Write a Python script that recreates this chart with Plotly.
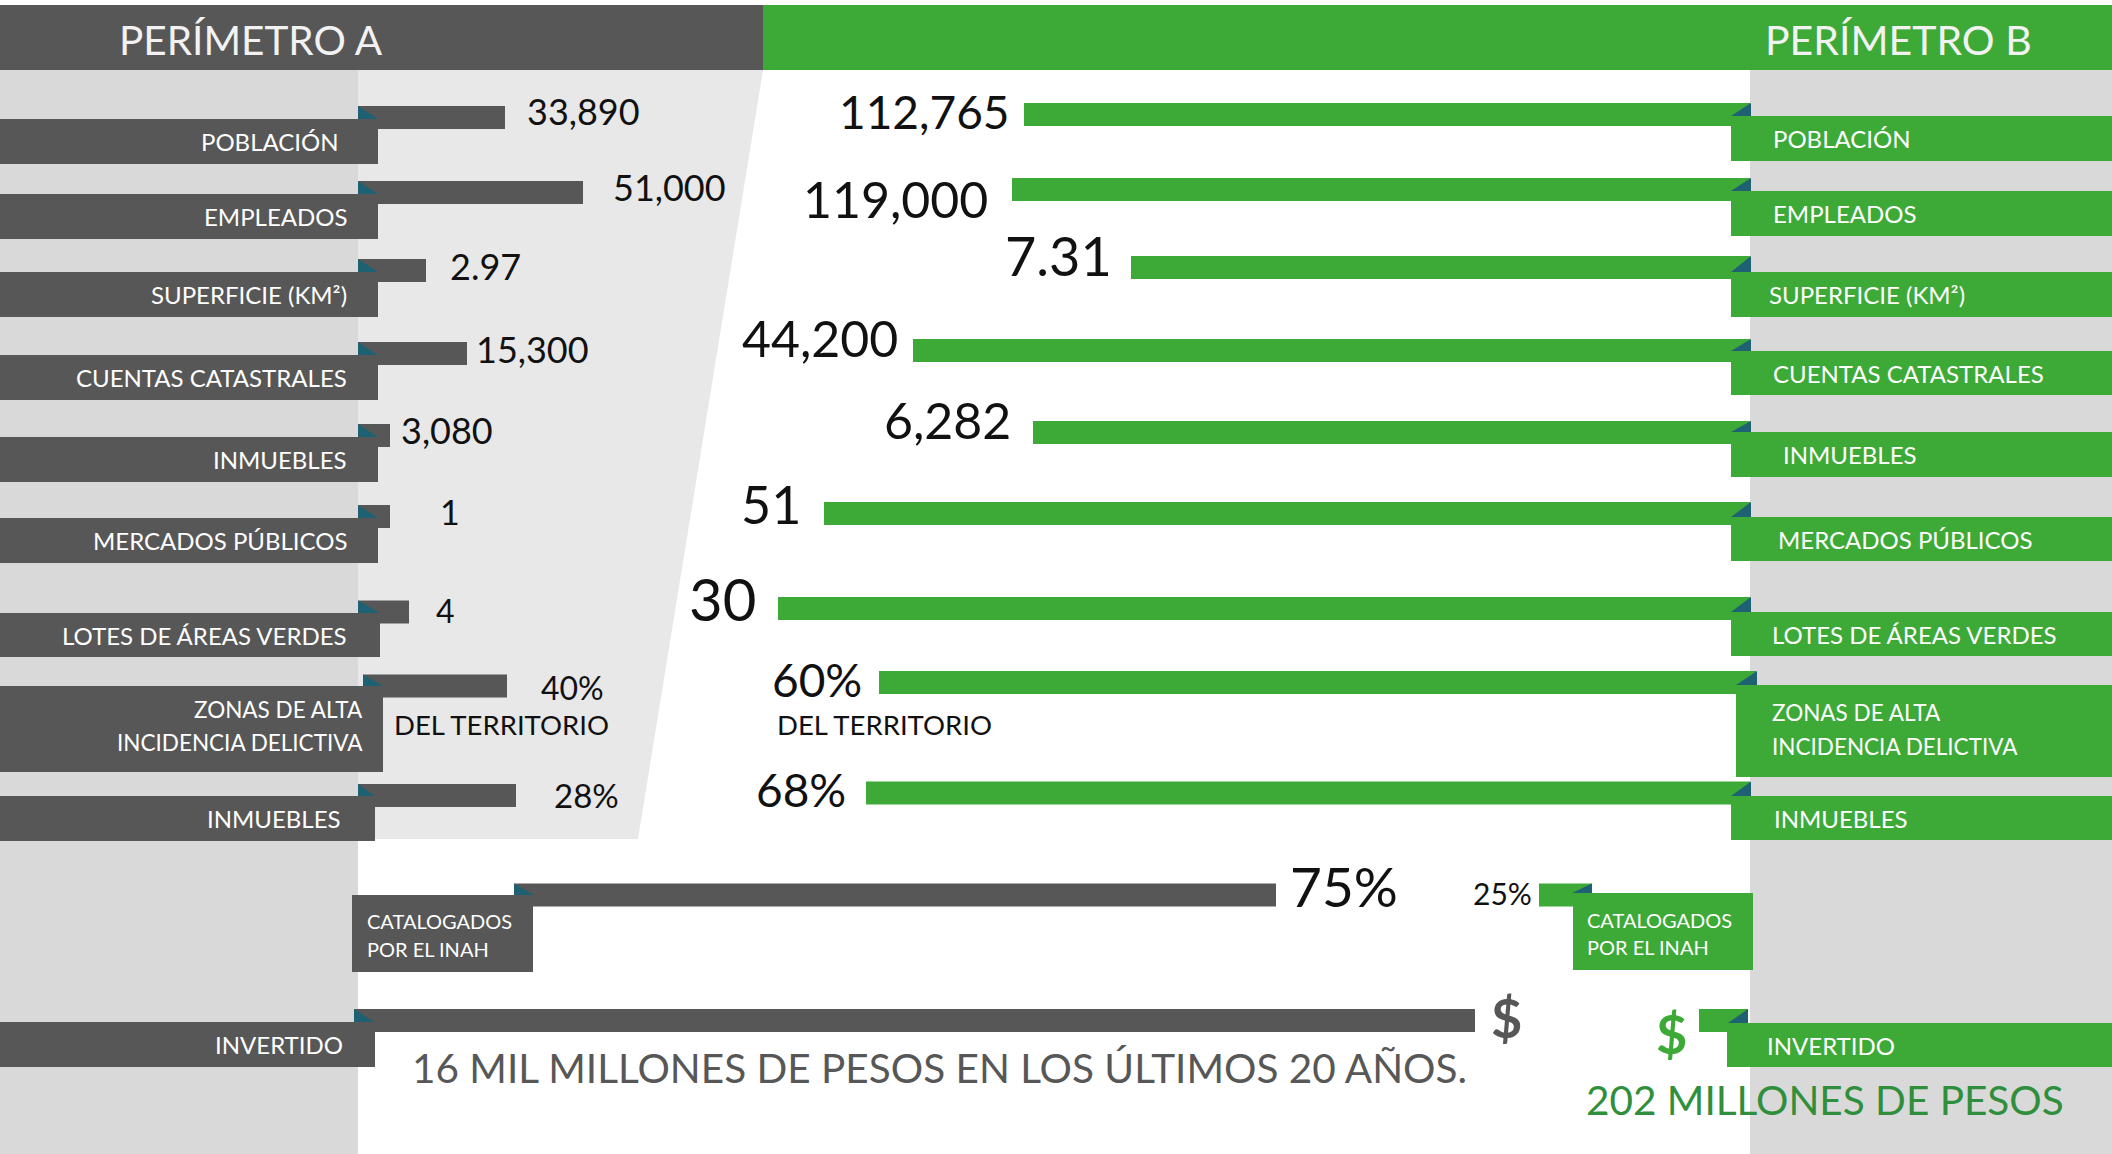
import plotly.graph_objects as go

# ---------------- data ----------------
categories = ["POBLACIÓN", "EMPLEADOS", "SUPERFICIE (KM²)", "CUENTAS CATASTRALES",
              "INMUEBLES", "MERCADOS PÚBLICOS", "LOTES DE ÁREAS VERDES",
              "ZONAS DE ALTA<br>INCIDENCIA DELICTIVA", "INMUEBLES"]
value_labels_a = ["33,890", "51,000", "2.97", "15,300", "3,080", "1", "4", "40%", "28%"]
value_labels_b = ["112,765", "119,000", "7.31", "44,200", "6,282", "51", "30", "60%", "68%"]
# bar lengths as drawn in the infographic (display units)
bar_a = [147, 225, 68, 109, 32, 32, 51, 144, 158]
bar_b = [726, 738, 619, 837, 717, 926, 972, 877, 884]

bottom_categories = ["CATALOGADOS<br>POR EL INAH", "INVERTIDO"]
bottom_labels_a = ["75%", "$"]
bottom_labels_b = ["25%", "$"]
bottom_bar_a = [762, 1121]
bottom_bar_b = [53, 49]

perimeters = ["PERÍMETRO A", "PERÍMETRO B"]
territory_note = "DEL TERRITORIO"
invest_notes = ["16 MIL MILLONES DE PESOS EN LOS ÚLTIMOS 20 AÑOS.", "202 MILLONES DE PESOS"]

# ---------------- layout / style ----------------
W, H = 2112, 1154
DARK = "#575757"
GREEN = "#3daa37"
DGREEN = "#2f8f3c"
TEAL = "#1e6173"
LGRAY = "#d9d9d9"
LLGRAY = "#e8e8e8"
FONT = "Lato, 'Open Sans', sans-serif"
BAR_W = 23

left_base = [358, 358, 358, 358, 358, 358, 358, 363, 358]
right_end = [1750, 1750, 1750, 1750, 1750, 1750, 1750, 1756, 1750]
left_bar_c = [117.5, 192.5, 270.5, 353.5, 435.5, 516.5, 612, 686, 795.5]
right_bar_c = [114.5, 189.5, 267.5, 350.5, 432.5, 513.5, 608.5, 682.5, 793]
left_box = [(119, 164), (194, 239), (272, 317), (355, 400), (437, 482), (518, 563), (613, 657), (686, 772), (796, 841)]
left_box_r = [378, 378, 378, 378, 378, 378, 380, 383, 375]
left_text_r = [341, 349, 349, 349, 349, 349, 349, 365, 343]
right_box = [(116, 161), (191, 236), (272, 317), (351, 395), (432, 477), (517, 561), (612, 656), (685, 777), (796, 840)]
right_box_l = [1731, 1731, 1731, 1731, 1731, 1731, 1731, 1736, 1731]
right_text_l = [1771, 1771, 1767, 1771, 1781, 1776, 1770, 1770, 1772]

left_gap = [20, 28, 22, 7, 9, 48, 25, 32, 36]
right_gap = [12, 22, 17, 13, 20, 21, 20, 15, 18]
left_val_y = [111, 186.5, 265.5, 348.5, 429.5, 511.5, 610, 687.5, 795]
right_val_y = [111, 199, 255.5, 338, 420, 504, 598, 679, 789.5]
left_val_fs = [36, 36, 36, 36, 36, 34, 32, 32, 33]
right_val_fs = [46, 50, 54, 50, 50, 52, 58, 46, 46]

# bottom rows
bot_left_base = [514, 354]
bot_right_end = [1592, 1748]
bot_bar_c = [895, 1020.5]
bot_left_box = [(352, 533, 895, 972), (0, 375, 1022, 1067)]
bot_right_box = [(1573, 1753, 893, 970), (1727, 2112, 1023, 1067)]

fig = go.Figure()

# bars
fig.add_trace(go.Bar(orientation="h", y=left_bar_c, x=bar_a, base=left_base, width=BAR_W,
                     marker=dict(color=DARK, line=dict(width=0)), hoverinfo="skip"))
fig.add_trace(go.Bar(orientation="h", y=right_bar_c, x=[-v for v in bar_b], base=right_end, width=BAR_W,
                     marker=dict(color=GREEN, line=dict(width=0)), hoverinfo="skip"))
fig.add_trace(go.Bar(orientation="h", y=bot_bar_c, x=bottom_bar_a, base=bot_left_base, width=BAR_W,
                     marker=dict(color=DARK, line=dict(width=0)), hoverinfo="skip"))
fig.add_trace(go.Bar(orientation="h", y=bot_bar_c, x=[-v for v in bottom_bar_b], base=bot_right_end, width=BAR_W,
                     marker=dict(color=GREEN, line=dict(width=0)), hoverinfo="skip"))

shapes = []
def rect(x0, y0, x1, y1, color, layer="above"):
    shapes.append(dict(type="rect", xref="x", yref="y", x0=x0, x1=x1, y0=y0, y1=y1,
                       fillcolor=color, line=dict(width=0), layer=layer))
def tri(pts, color):
    p = "M " + " L ".join(f"{a},{b}" for a, b in pts) + " Z"
    shapes.append(dict(type="path", xref="x", yref="y", path=p, fillcolor=color,
                       line=dict(width=0), layer="above"))

# backgrounds
rect(0, 70, 358, H, LGRAY, "below")
shapes.append(dict(type="path", xref="x", yref="y", path="M 358,70 L 763,70 L 638,839 L 358,839 Z",
                   fillcolor=LLGRAY, line=dict(width=0), layer="below"))
rect(1750, 70, W, H, LGRAY, "below")
rect(0, 5, 763, 70, DARK, "below")
rect(763, 5, W, 70, GREEN, "below")

ann = []
def text(x, y, s, size, color, anchor="left", bold=False):
    ann.append(dict(x=x, y=y, xref="x", yref="y", text=(f"<b>{s}</b>" if bold else s), showarrow=False,
                    xanchor=anchor, yanchor="middle", align=anchor,
                    font=dict(family=FONT, size=size, color=color)))

text(117, 39, perimeters[0], 40.5, "#f2f2f2")
text(1763, 39, perimeters[1], 41, "#f2f2f2")

for i, cat in enumerate(categories):
    lines = cat.split("<br>")
    # left label box
    y0, y1 = left_box[i]
    rect(0, y0, left_box_r[i], y1, DARK)
    bar_top = left_bar_c[i] - BAR_W / 2
    tri([(left_base[i], bar_top), (left_base[i], y0), (left_box_r[i], y0)], TEAL)
    # right label box
    r0, r1 = right_box[i]
    rect(right_box_l[i], r0, W, r1, GREEN)
    rtop = right_bar_c[i] - BAR_W / 2
    tri([(right_end[i] + 1, rtop), (right_end[i] + 1, r0), (right_box_l[i], r0)], TEAL)
    if len(lines) == 1:
        text(left_text_r[i], (y0 + y1) / 2, lines[0], 24, "white", "right")
        text(right_text_l[i], (r0 + r1) / 2, lines[0], 24, "white", "left")
    else:
        for k, ln in enumerate(lines):
            text(left_text_r[i], 709 + 33.5 * k, ln, 22.5, "white", "right")
            text(right_text_l[i], 712.5 + 34 * k, ln, 22.5, "white", "left")
    # values
    text(left_base[i] + bar_a[i] + left_gap[i], left_val_y[i], value_labels_a[i], left_val_fs[i], "#111111", "left")
    text(right_end[i] - bar_b[i] - right_gap[i], right_val_y[i], value_labels_b[i], right_val_fs[i], "#111111", "right")

text(392, 724.5, territory_note, 27.5, "#111111", "left")
text(775, 724.5, territory_note, 27.5, "#111111", "left")

# bottom rows
for j, cat in enumerate(bottom_categories):
    lines = cat.split("<br>")
    bx0, bx1, by0, by1 = bot_left_box[j]
    rect(bx0, by0, bx1, by1, DARK)
    top = bot_bar_c[j] - BAR_W / 2
    tri([(bot_left_base[j], top), (bot_left_base[j], by0), (bot_left_base[j] + 20, by0)], TEAL)
    gx0, gx1, gy0, gy1 = bot_right_box[j]
    rect(gx0, gy0, gx1, gy1, GREEN)
    tri([(bot_right_end[j], top), (bot_right_end[j], gy0), (bot_right_end[j] - 20, gy0)], TEAL)
    if len(lines) == 2:
        for k, ln in enumerate(lines):
            text(365, 920.5 + 28 * k, ln, 20, "white", "left")
            text(1585, 919.5 + 27 * k, ln, 20, "white", "left")
    else:
        text(345, 1044.5, lines[0], 24, "white", "right")
        text(1765, 1045, lines[0], 24, "white", "left")

text(1288, 885.5, bottom_labels_a[0], 55, "#111111", "left")
text(1534, 893, bottom_labels_b[0], 30, "#111111", "right")
text(1489, 1017, bottom_labels_a[1], 54, DARK, "left", bold=True)
text(1654, 1033, bottom_labels_b[1], 54, GREEN, "left", bold=True)
text(410, 1067, invest_notes[0], 40.5, DARK, "left")
text(1584, 1099, invest_notes[1], 40.5, DGREEN, "left")

fig.update_layout(
    width=W, height=H, margin=dict(l=0, r=0, t=0, b=0, pad=0),
    paper_bgcolor="white", plot_bgcolor="white",
    showlegend=False, barmode="overlay", hovermode=False,
    xaxis=dict(range=[0, W], visible=False, fixedrange=True),
    yaxis=dict(range=[H, 0], visible=False, fixedrange=True),
    shapes=shapes, annotations=ann,
)

fig.write_html("out.html", config={"displayModeBar": False},
               post_script="document.body.style.margin='0';document.body.style.overflow='hidden';")
